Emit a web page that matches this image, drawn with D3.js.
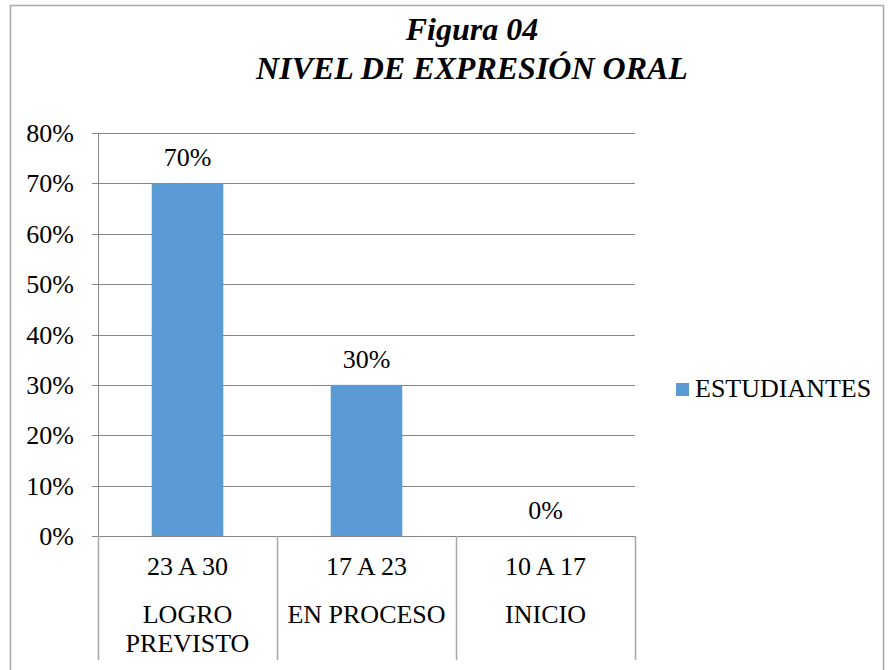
<!DOCTYPE html>
<html><head><meta charset="utf-8"><script src="https://cdn.jsdelivr.net/npm/d3@7"></script></head><body style="margin:0">
<svg id="c" width="889" height="670"></svg>
<script>
const ranges = ["23 A 30", "17 A 23", "10 A 17"];
const levels = [["LOGRO", "PREVISTO"], ["EN PROCESO"], ["INICIO"]];
const values = [0.70, 0.30, 0.00];
const yTicks = [0, 0.1, 0.2, 0.3, 0.4, 0.5, 0.6, 0.7, 0.8];
const seriesName = "ESTUDIANTES";
const titleLines = ["Figura 04", "NIVEL DE EXPRESIÓN ORAL"];

const svg = d3.select("#c").style("display", "block");
const FF = '"Liberation Serif"';
const color = "#5B9BD5";
const gridColor = "#868686";

svg.append("path").attr("d", "M10.5,670 V5.5 H883.5 V670")
  .attr("fill", "none").attr("stroke", "#A6A6A6").attr("stroke-width", 1.5);

const pL = 98, pR = 635, pT = 133, pB = 536;
const x = d3.scaleBand().domain(ranges).range([pL, pR]).paddingInner(0).paddingOuter(0);
const y = d3.scaleLinear().domain([0, 0.8]).range([pB, pT]);

svg.append("g").selectAll("line").data(yTicks).join("line")
  .attr("x1", pL - 6).attr("x2", pR)
  .attr("y1", d => Math.round(y(d)) + 0.5).attr("y2", d => Math.round(y(d)) + 0.5)
  .attr("stroke", gridColor).attr("stroke-width", 1);

svg.append("line").attr("x1", pL + 0.5).attr("x2", pL + 0.5)
  .attr("y1", pT).attr("y2", pB + 6).attr("stroke", gridColor);

const seps = ranges.map(r => x(r)).concat([pR]);
svg.append("g").selectAll("line").data(seps).join("line")
  .attr("x1", d => Math.round(d) + 0.5).attr("x2", d => Math.round(d) + 0.5)
  .attr("y1", pB).attr("y2", 660)
  .attr("stroke", "#A6A6A6").attr("stroke-width", 1.5);

const bw = x.bandwidth() * 0.4;
svg.append("g").selectAll("rect").data(values).join("rect")
  .attr("x", (d, i) => x(ranges[i]) + x.bandwidth() / 2 - bw / 2)
  .attr("width", bw)
  .attr("y", d => y(d)).attr("height", d => y(0) - y(d))
  .attr("fill", color);

function txt(px, py, s, anchor, size) {
  return svg.append("text").attr("x", px).attr("y", py).attr("text-anchor", anchor)
    .attr("font-size", size).style("font-family", FF).text(s);
}

yTicks.forEach(d => txt(74, y(d) + 9, d3.format(".0%")(d), "end", 26));
values.forEach((d, i) => txt(x(ranges[i]) + x.bandwidth() / 2, y(d) - 17, d3.format(".0%")(d), "middle", 26));

ranges.forEach((r, i) => {
  const cx = x(r) + x.bandwidth() / 2;
  txt(cx, 575, r, "middle", 26);
  levels[i].forEach((l, j) => txt(cx, 623 + j * 29, l, "middle", 26));
});

titleLines.forEach((t, i) => {
  txt(472, 40 + i * 39, t, "middle", 32).attr("font-weight", "bold").attr("font-style", "italic");
});

svg.append("rect").attr("x", 676).attr("y", 383).attr("width", 13).attr("height", 13).attr("fill", color);
txt(695, 397, seriesName, "start", 26);
</script>
</body></html>
